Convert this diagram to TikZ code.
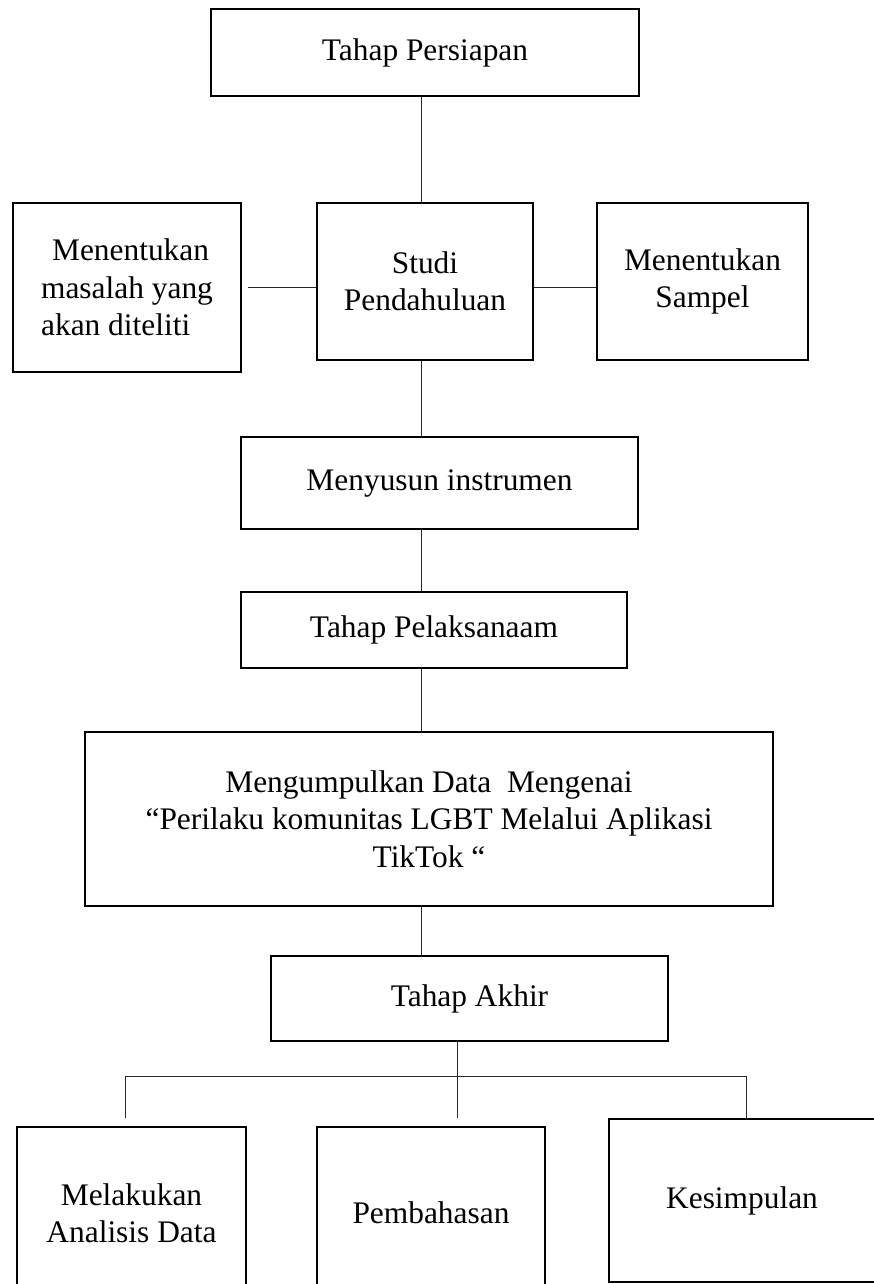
\documentclass[tikz,border=0pt]{standalone}
\usepackage{fontspec}
\setmainfont{Liberation Serif}

\tikzset{
  box/.style={draw, rectangle, line width=2.6pt, align=center, inner sep=2pt,
    font=\fontsize{31.4}{37.5}\selectfont},
  link/.style={line width=1pt, black!85},
}

\begin{document}
\begin{tikzpicture}[x=1pt, y=-1pt]
        \useasboundingbox (0,0) rectangle (874,1284);
        \clip (0,0) rectangle (874,1284);

        \node[box, minimum width=428, minimum height=87] at (425, 52.5)(persiapan){Tahap Persiapan};
        \node[box, align=left, minimum width=228, minimum height=169] at (127, 287.5)(masalah){\hspace*{0.35em}Menentukan\\masalah yang\\akan diteliti};
        \node[box, minimum width=216, minimum height=157] at (425, 281.5)(studi){Studi\\Pendahuluan};
        \node[box, minimum width=211, minimum height=157] at (702.5, 281.5)(sampel){Menentukan\\Sampel};
        \node[box, minimum width=397, minimum height=92] at (439.5, 483)(instrumen){Menyusun instrumen};
        \node[box, minimum width=386, minimum height=76] at (434, 630)(pelaksanaan){Tahap Pelaksanaam};
        \node[box, minimum width=688, minimum height=174] at (429, 819)(kumpul){Mengumpulkan Data\ \ Mengenai\\“Perilaku komunitas LGBT Melalui Aplikasi\\TikTok “};
        \node[box, minimum width=397, minimum height=85] at (469.5, 998.5)(akhir){Tahap Akhir};
        \node[box, minimum width=229, minimum height=172] at (131.5, 1213)(analisis){Melakukan\\Analisis Data};
        \node[box, minimum width=228, minimum height=172] at (431, 1213)(bahas){Pembahasan};
        \node[box, minimum width=266, minimum height=163] at (742, 1200.5)(simpul){Kesimpulan};

        \coordinate (spine) at (421, 0);
        \coordinate (busL) at (125, 1076);
        \coordinate (busM) at (457, 1076);
        \coordinate (busR) at (746, 1076);
        \coordinate (dropL) at (125, 1118);
        \coordinate (dropM) at (457, 1118);
        \coordinate (dropR) at (746, 1118);

        \path[link]
        (persiapan.south -| spine)edge(studi.north -| spine)
        (studi.south -| spine)edge(instrumen.north -| spine)
        (instrumen.south -| spine)edge(pelaksanaan.north -| spine)
        (pelaksanaan.south -| spine)edge(kumpul.north -| spine)
        (kumpul.south -| spine)edge(akhir.north -| spine)
        ([xshift=6pt]masalah.east)edge(masalah.east -| studi.west)
        (studi.east |- masalah.east)edge(masalah.east -| sampel.west)
        (akhir.south -| busM)edge(busM)
        (busL)edge(busR)
        (busL)edge(dropL)
        (busM)edge(dropM)
        (busR)edge(dropR)
        ;
    \end{tikzpicture}
\end{document}
